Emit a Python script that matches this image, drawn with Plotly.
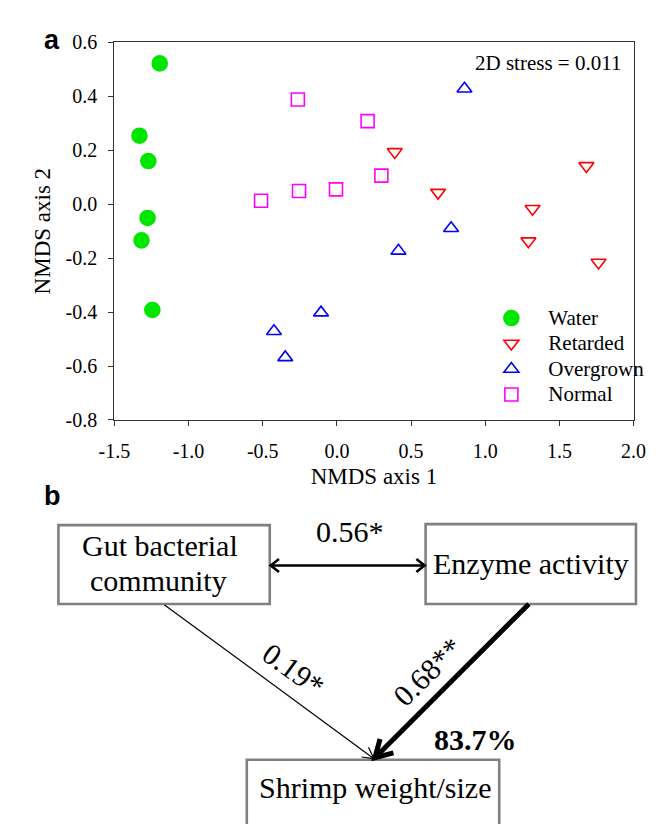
import math
import plotly.graph_objects as go

# ---------------- data (panel a) ----------------
water_x = [-1.194, -1.331, -1.271, -1.276, -1.317, -1.244]
water_y = [0.522, 0.254, 0.160, -0.051, -0.134, -0.392]
retarded_x = [0.390, 0.682, 1.682, 1.319, 1.291, 1.764]
retarded_y = [0.194, 0.043, 0.142, -0.017, -0.137, -0.216]
overgrown_x = [0.860, 0.770, 0.415, -0.107, -0.424, -0.348]
overgrown_y = [0.428, -0.089, -0.173, -0.402, -0.471, -0.568]
normal_x = [-0.263, 0.207, 0.300, -0.511, -0.255, -0.006]
normal_y = [0.388, 0.308, 0.106, 0.013, 0.049, 0.055]

x_ticks = [-1.5, -1.0, -0.5, 0.0, 0.5, 1.0, 1.5, 2.0]
x_ticktext = ["-1.5", "-1.0", "-0.5", "0.0", "0.5", "1.0", "1.5", "2.0"]
y_ticks = [-0.8, -0.6, -0.4, -0.2, 0.0, 0.2, 0.4, 0.6]
y_ticktext = ["-0.8", "-0.6", "-0.4", "-0.2", "0.0", "0.2", "0.4", "0.6"]

# ---------------- data (panel b) ----------------
node_labels = ["Gut bacterial<br>community", "Enzyme activity", "Shrimp weight/size"]
path_labels = ["0.56*", "0.19*", "0.68**"]
explained = "83.7%"

W, H = 662, 824
SERIF = "Liberation Serif, Times New Roman, serif"
SANS = "Liberation Sans, Arial, sans-serif"


def px(x):
    return x / W


def py(y):
    return 1 - y / H


fig = go.Figure()
series = [
    ("Water", water_x, water_y, "circle", "#00E600", 15),
    ("Retarded", retarded_x, retarded_y, "triangle-down-open", "#FF0000", 13),
    ("Overgrown", overgrown_x, overgrown_y, "triangle-up-open", "#0000FF", 13),
    ("Normal", normal_x, normal_y, "square-open", "#FF00FF", 13),
]
for name, xs, ys, sym, col, sz in series:
    fig.add_trace(go.Scatter(
        x=xs, y=ys, mode="markers", name='<span style="font-size:21px">' + name + "</span>",
        marker=dict(symbol=sym, color=col, size=sz, line=dict(color=col, width=1.6)),
    ))

axis_common = dict(
    showgrid=False, zeroline=False, showline=True, linecolor="#333333", linewidth=1.3,
    mirror=True, ticks="outside", ticklen=5, tickcolor="#333333", tickwidth=1.3,
    tickfont=dict(family=SERIF, size=20, color="black"),
)

fig.update_layout(
    width=W, height=H,
    margin=dict(l=0, r=0, t=0, b=0),
    paper_bgcolor="white", plot_bgcolor="white",
    font=dict(family=SERIF, color="black"),
    xaxis=dict(domain=[px(94.5), px(637.5)], range=[-1.5, 2.0],
               tickvals=x_ticks, ticktext=x_ticktext, ticklabelstandoff=8,
               title=dict(text="NMDS axis 1", font=dict(family=SERIF, size=23, color="black"), standoff=6),
               **axis_common),
    yaxis=dict(domain=[py(412), py(24)], range=[-0.8, 0.6],
               tickvals=y_ticks, ticktext=y_ticktext, ticklabelstandoff=7,
               title=dict(text="NMDS axis 2", font=dict(family=SERIF, size=23, color="black"), standoff=8),
               **axis_common),
    legend=dict(x=px(471), y=py(289), xanchor="left", yanchor="top",
                bgcolor="rgba(0,0,0,0)", borderwidth=0, itemwidth=64,
                font=dict(family=SERIF, size=17.3, color="black")),
    showlegend=True,
)

ann = []
ann.append(dict(text="2D stress = 0.011", x=px(626), y=py(45.5), xref="paper", yref="paper",
                xanchor="right", yanchor="middle", showarrow=False,
                font=dict(family=SERIF, size=21, color="black")))
ann.append(dict(text="<b>a</b>", x=px(29), y=py(22), xref="paper", yref="paper",
                xanchor="center", yanchor="middle", showarrow=False,
                font=dict(family=SANS, size=27, color="black")))
ann.append(dict(text="<b>b</b>", x=px(30), y=py(490), xref="paper", yref="paper",
                xanchor="center", yanchor="middle", showarrow=False,
                font=dict(family=SANS, size=27, color="black")))

# ---------------- panel b: boxes ----------------
boxes = [(36, 520, 257, 601), (420, 519, 640, 601), (233, 761, 497, 830)]
shapes = []
for (x0, y0, x1, y1) in boxes:
    shapes.append(dict(type="rect", xref="paper", yref="paper",
                       x0=px(x0), x1=px(x1), y0=py(y1), y1=py(y0),
                       line=dict(color="#808080", width=2.6), fillcolor="rgba(0,0,0,0)"))

text_font = dict(family=SERIF, size=30, color="black")
g_lines = node_labels[0].split("<br>")
ann.append(dict(text=g_lines[0], x=px(142), y=py(541), xref="paper", yref="paper",
                xanchor="center", yanchor="middle", showarrow=False, font=text_font))
ann.append(dict(text=g_lines[1], x=px(141), y=py(577), xref="paper", yref="paper",
                xanchor="center", yanchor="middle", showarrow=False, font=text_font))
ann.append(dict(text=node_labels[1], x=px(530), y=py(559), xref="paper", yref="paper",
                xanchor="center", yanchor="middle", showarrow=False, font=text_font))
ann.append(dict(text=node_labels[2], x=px(367), y=py(790), xref="paper", yref="paper",
                xanchor="center", yanchor="middle", showarrow=False, font=text_font))


def seg(x0, y0, x1, y1, width):
    return dict(type="line", xref="paper", yref="paper",
                x0=px(x0), y0=py(y0), x1=px(x1), y1=py(y1),
                line=dict(color="black", width=width))


def head(xs, ys, xt, yt, length, half_angle_deg, width):
    ang = math.atan2(ys - yt, xs - xt)
    a = math.radians(half_angle_deg)
    p1 = (xt + length * math.cos(ang + a), yt + length * math.sin(ang + a))
    p2 = (xt + length * math.cos(ang - a), yt + length * math.sin(ang - a))
    path = "M {:.5f},{:.5f} L {:.5f},{:.5f} L {:.5f},{:.5f}".format(
        px(p1[0]), py(p1[1]), px(xt), py(yt), px(p2[0]), py(p2[1]))
    return dict(type="path", xref="paper", yref="paper", path=path,
                line=dict(color="black", width=width))


# double-headed arrow between the two top boxes
shapes.append(seg(258, 561.5, 419, 561.5, 2.6))
shapes.append(head(300, 561.5, 258, 561.5, 11, 38, 2.6))
shapes.append(head(380, 561.5, 419, 561.5, 11, 38, 2.6))
# thin path: gut community -> shrimp
shapes.append(seg(147, 602, 366, 760, 1.2))
shapes.append(head(147, 602, 366, 760, 13, 28, 1.2))
# thick path: enzyme activity -> shrimp
shapes.append(seg(528, 601, 368, 758, 5))
shapes.append(head(528, 601, 367, 759, 20, 30, 5))

num_font = dict(family=SERIF, size=30, color="black")
ann.append(dict(text=path_labels[0], x=px(341), y=py(527), xref="paper", yref="paper",
                xanchor="center", yanchor="middle", showarrow=False, font=num_font))
ann.append(dict(text=path_labels[1], x=px(282), y=py(668), xref="paper", yref="paper",
                xanchor="center", yanchor="middle", showarrow=False, font=num_font,
                textangle=36))
ann.append(dict(text=path_labels[2], x=px(422), y=py(670), xref="paper", yref="paper",
                xanchor="center", yanchor="middle", showarrow=False, font=num_font,
                textangle=-44.5))
ann.append(dict(text="<b>" + explained + "</b>", x=px(472), y=py(740), xref="paper", yref="paper",
                xanchor="center", yanchor="middle", showarrow=False,
                font=dict(family=SERIF, size=30, color="black")))

fig.update_layout(annotations=ann, shapes=shapes)
fig.write_html("out.html")
